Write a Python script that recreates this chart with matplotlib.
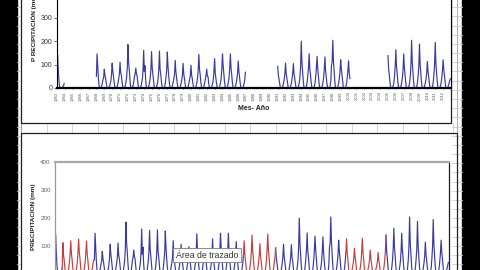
import numpy as np
import matplotlib.pyplot as plt
from matplotlib.patches import Rectangle
from matplotlib.lines import Line2D

plt.rcParams["font.family"] = ["Liberation Sans", "DejaVu Sans"]

N = np.nan
W, H = 480, 270

YEARS = list(range(1963, 2013))

# monthly precipitation (mm), Jan..Dec
OBSERVED = {
    1963: [128, 140, 75, 30, 5, 0, 0, 0, 3, 6, 10, 20],
    1968: [50, 145, 95, 45, 10, 0, 0, 2, 8, 20, 35, 45],
    1969: [80, 55, 40, 22, 4, 0, 0, 1, 6, 18, 30, 55],
    1970: [105, 70, 50, 25, 5, 0, 0, 3, 10, 22, 40, 60],
    1971: [110, 65, 55, 28, 6, 0, 0, 2, 10, 25, 45, 85],
    1972: [185, 110, 80, 40, 8, 0, 0, 3, 12, 28, 50, 60],
    1973: [85, 60, 52, 25, 5, 0, 0, 2, 8, 22, 40, 75],
    1974: [160, 70, 95, 35, 6, 0, 0, 1, 10, 24, 45, 80],
    1975: [155, 85, 60, 30, 5, 0, 0, 2, 9, 20, 42, 78],
    1976: [157, 80, 58, 28, 4, 0, 0, 1, 8, 22, 48, 75],
    1977: [153, 95, 55, 25, 5, 0, 0, 3, 12, 25, 40, 60],
    1978: [118, 70, 45, 22, 4, 0, 0, 1, 8, 20, 35, 55],
    1979: [105, 60, 42, 20, 3, 0, 0, 2, 9, 22, 38, 50],
    1980: [97, 55, 40, 18, 5, 0, 0, 1, 10, 24, 42, 75],
    1981: [143, 80, 58, 26, 5, 0, 0, 2, 9, 25, 40, 55],
    1982: [80, 50, 48, 20, 3, 0, 0, 1, 8, 20, 35, 70],
    1983: [125, 62, 40, 18, 3, 0, 0, 2, 9, 22, 42, 80],
    1984: [145, 95, 62, 30, 6, 0, 0, 1, 10, 25, 45, 82],
    1985: [145, 85, 58, 25, 5, 0, 0, 2, 9, 22, 40, 65],
    1986: [115, 70, 45, 20, 3, 0, 0, 1, 8, 20, 38, 67],
    1991: [92, 57, 38, 18, 3, 0, 0, 1, 8, 20, 38, 60],
    1992: [106, 62, 42, 20, 4, 0, 0, 2, 9, 22, 40, 65],
    1993: [104, 58, 44, 19, 3, 0, 0, 1, 10, 25, 48, 95],
    1994: [199, 110, 70, 30, 5, 0, 0, 2, 9, 28, 55, 88],
    1995: [146, 80, 58, 25, 5, 0, 0, 1, 8, 22, 50, 85],
    1996: [135, 85, 52, 22, 3, 0, 0, 2, 9, 24, 45, 80],
    1997: [132, 75, 48, 20, 4, 0, 0, 1, 10, 30, 96, 110],
    1998: [203, 115, 75, 30, 5, 0, 0, 2, 9, 22, 42, 70],
    1999: [120, 82, 55, 24, 3, 0, 0, 1, 8, 20, 45, 75],
    2000: [116, 65, 40, N, N, N, N, N, N, N, N, N],
    2005: [138, 80, 58, 25, 5, 0, 0, 2, 9, 24, 50, 90],
    2006: [163, 92, 65, 28, 5, 0, 0, 1, 10, 25, 45, 78],
    2007: [145, 85, 58, 25, 3, 0, 0, 2, 9, 22, 50, 98],
    2008: [203, 110, 70, 30, 5, 0, 0, 1, 8, 25, 55, 92],
    2009: [187, 100, 62, 26, 5, 0, 0, 2, 10, 22, 40, 65],
    2010: [113, 70, 48, 20, 3, 0, 0, 1, 9, 25, 58, 98],
    2011: [194, 105, 66, 28, 5, 0, 0, 2, 8, 22, 45, 75],
    2012: [120, 78, 52, 22, 3, 0, 0, 1, 9, 20, 30, 40],
}

# gap-filled years (red in the lower chart)
FILLED = {
    1964: [111, 68, 48, 22, 4, 0, 0, 1, 9, 22, 42, 72],
    1965: [118, 72, 52, 24, 5, 0, 0, 2, 9, 24, 44, 78],
    1966: [124, 76, 55, 25, 5, 0, 0, 1, 10, 25, 42, 75],
    1967: [117, 70, 50, 22, 4, 0, 0, 2, 9, 22, 38, 50],
    1987: [118, 72, 48, 22, 4, 0, 0, 1, 9, 24, 45, 80],
    1988: [138, 82, 58, 26, 5, 0, 0, 2, 10, 22, 40, 65],
    1989: [108, 65, 45, 20, 3, 0, 0, 1, 9, 25, 48, 88],
    1990: [142, 85, 60, 26, 5, 0, 0, 2, 8, 22, 40, 60],
    2000: [125, 75, 52, 22, 4, 0, 0, 1, 9, 22, 35, 55],
    2001: [91, 58, 42, 18, 3, 0, 0, 2, 9, 24, 42, 78],
    2002: [127, 76, 52, 22, 4, 0, 0, 1, 8, 20, 32, 50],
    2003: [85, 55, 38, 17, 3, 0, 0, 2, 9, 20, 30, 45],
    2004: [76, 50, 36, 16, 3, 0, 0, 1, 9, 24, 45, 78],
}

BLUE = "#3a3aa6"
RED = "#c44040"


def monthly(table, skip=()):
    out = []
    for y in YEARS:
        row = table.get(y) if y not in skip else None
        out.extend(row if row is not None else [N] * 12)
    return np.array(out, dtype=float)


t = np.array([y + m / 12 for y in YEARS for m in range(12)])
top_vals = monthly(OBSERVED)
blue_vals = monthly(OBSERVED, skip=FILLED.keys())
red_vals = monthly(FILLED)
combined = np.where(np.isnan(red_vals), blue_vals, red_vals)
red_mask = ~np.isnan(red_vals)
red_ext = red_mask | np.roll(red_mask, 1) | np.roll(red_mask, -1)
red_line = np.where(red_ext, combined, N)


def fx(x):
    return x / W


def fy(y):
    return 1 - y / H


fig = plt.figure(figsize=(4.8, 2.7), dpi=100)
fig.patch.set_facecolor("white")

# sheet background: black margins and grid lines
fig.patches.append(Rectangle((0, 0), fx(17), 1, transform=fig.transFigure,
                             color="black", zorder=-5))
fig.patches.append(Rectangle((fx(462), 0), fx(18), 1, transform=fig.transFigure,
                             color="black", zorder=-5))
grid_c = "#cfcfcf"
for x in np.arange(47, 460, 25.4):
    fig.lines.append(Line2D([fx(x)] * 2, [fy(123), fy(133)], color=grid_c,
                            lw=0.6, transform=fig.transFigure, zorder=-4))
for y in np.arange(7.3, 270, 9.17):
    for x0, x1 in ((17, 21), (452, 462)):
        fig.lines.append(Line2D([fx(x0), fx(x1)], [fy(y)] * 2, color=grid_c,
                                lw=0.6, transform=fig.transFigure, zorder=-4))
fig.lines.append(Line2D([fx(21)] * 2, [0, 1], color="#9a9a9a", lw=0.7,
                        transform=fig.transFigure, zorder=-3))
fig.lines.append(Line2D([fx(457)] * 2, [0, fy(0)], color="#b0b0b0", lw=0.7,
                        transform=fig.transFigure, zorder=-3))

# chart frames
fig.patches.append(Rectangle((fx(21), fy(123)), fx(451 - 21), fy(-5) - fy(123),
                             transform=fig.transFigure, fill=False,
                             ec="#202020", lw=0.9, zorder=-2))
fig.patches.append(Rectangle((fx(21), fy(275)), fx(457 - 21), fy(133) - fy(275),
                             transform=fig.transFigure, fill=False,
                             ec="#202020", lw=0.9, zorder=-2))

# upper chart
ax1 = fig.add_axes([fx(57), fy(88), fx(394), 94 / H])
ax1.plot(t, top_vals, color=BLUE, lw=0.85)
ax1.set_xlim(1963, 2013)
ax1.set_ylim(0, 400)
ax1.set_yticks([0, 100, 200, 300])
ax1.set_xticks(YEARS)
ax1.set_xticklabels([str(y) for y in YEARS], rotation=90, fontsize=3.0,
                    color="#555555")
ax1.tick_params(axis="y", labelsize=5, colors="#333333", length=2, width=0.5,
                pad=1.5)
ax1.tick_params(axis="x", length=1, width=0.4, pad=1.5)
ax1.spines["top"].set_visible(False)
ax1.spines["bottom"].set_linewidth(1.6)
ax1.spines["left"].set_linewidth(0.8)
ax1.spines["right"].set_linewidth(0.8)

fig.text(fx(34), fy(27), "P RECIPITACIÓN (mm)", rotation=90, fontsize=4.6,
         fontweight="bold", ha="center", va="center", color="#222222")
fig.text(fx(254), fy(108), "Mes- Año", fontsize=5, fontweight="bold",
         ha="center", va="center", color="#222222")

# lower chart
ax2 = fig.add_axes([fx(55), fy(273.7), fx(394), 111.7 / H])
ax2.plot(t, blue_vals, color=BLUE, lw=0.85)
ax2.plot(t, red_line, color=RED, lw=0.85)
ax2.set_xlim(1963, 2013)
ax2.set_ylim(0, 400)
ax2.set_yticks([100, 200, 300, 400])
ax2.set_xticks([])
ax2.tick_params(axis="y", labelsize=4.5, colors="#666666", length=0, pad=3)
ax2.spines["top"].set_color("#a8a8a8")
ax2.spines["top"].set_linewidth(1.6)
ax2.spines["left"].set_color("#9a9a9a")
ax2.spines["left"].set_linewidth(0.9)
ax2.spines["right"].set_color("#202020")
ax2.spines["right"].set_linewidth(0.9)

fig.text(fx(34), fy(217), "PRECIPITACION (mm)", rotation=90, fontsize=4.6,
         fontweight="bold", ha="center", va="center", color="#222222")

fig.text(fx(176), fy(255), "Área de trazado", fontsize=6.3, ha="left",
         va="center", color="#333333",
         bbox=dict(boxstyle="square,pad=0.3", fc="white", ec="#7a7a7a", lw=0.6))

fig.savefig("out.png", dpi=100)
